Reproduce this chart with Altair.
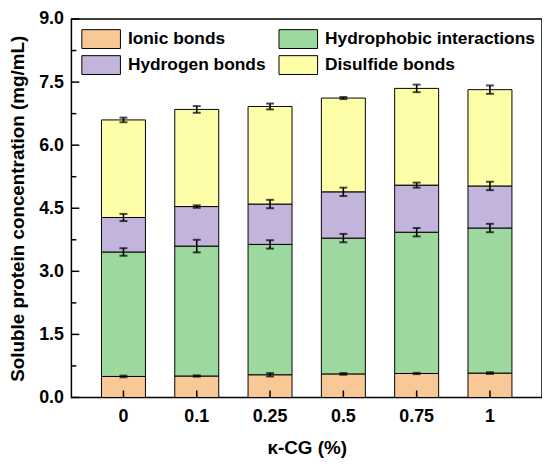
import altair as alt
import pandas as pd

categories = ["0", "0.1", "0.25", "0.5", "0.75", "1"]
series = ["Ionic bonds", "Hydrophobic interactions", "Hydrogen bonds", "Disulfide bonds"]
colors = ["#F9C897", "#9DD89E", "#C3B4DB", "#FEFEA8"]
# legend is filled column by column: this order gives rows (Ionic, Hydrophobic), (Hydrogen, Disulfide)
legend_order = ["Ionic bonds", "Hydrogen bonds", "Hydrophobic interactions", "Disulfide bonds"]

ionic = [0.50, 0.51, 0.54, 0.56, 0.57, 0.58]
hydrophobic = [2.96, 3.09, 3.10, 3.23, 3.36, 3.45]
hydrogen = [0.82, 0.94, 0.96, 1.10, 1.12, 1.00]
disulfide = [2.32, 2.31, 2.32, 2.23, 2.30, 2.29]

ionic_err = [0.02, 0.015, 0.04, 0.02, 0.015, 0.02]
hydrophobic_err = [0.09, 0.15, 0.10, 0.10, 0.10, 0.10]
hydrogen_err = [0.085, 0.03, 0.10, 0.10, 0.06, 0.10]
disulfide_err = [0.055, 0.08, 0.07, 0.025, 0.09, 0.10]

major_ticks = [0, 1.5, 3.0, 4.5, 6.0, 7.5, 9.0]
minor_ticks = [0.75, 2.25, 3.75, 5.25, 6.75, 8.25]

vals = [ionic, hydrophobic, hydrogen, disulfide]
errs = [ionic_err, hydrophobic_err, hydrogen_err, disulfide_err]
rows = []
for i, c in enumerate(categories):
    base = 0.0
    for s, v, e in zip(series, vals, errs):
        rows.append({"cat": c, "series": s, "start": base, "end": base + v[i],
                     "lo": base + v[i] - e[i], "hi": base + v[i] + e[i]})
        base += v[i]
df = pd.DataFrame(rows)

color_of = dict(zip(series, colors))

W, H = 475, 382
FONT = "Liberation Sans"

xscale = alt.Scale(domain=categories, paddingInner=0.4, paddingOuter=0.41)
yscale = alt.Scale(domain=[0, 9], nice=False)

x = alt.X("cat:N", scale=xscale, sort=categories,
          axis=alt.Axis(title="κ-CG (%)", labelAngle=0, ticks=False, domain=False,
                        labelPadding=10, titlePadding=14))
y_enc = alt.Y("start:Q", scale=yscale,
              axis=alt.Axis(title="Soluble protein concentration (mg/mL)",
                            values=major_ticks, format=".1f", ticks=False,
                            domain=False, grid=False, labelPadding=8, titlePadding=11))

legend_shape = "M-2.05,-1H2.05V1H-2.05Z"

bars = alt.Chart(df).mark_bar(stroke="black", strokeWidth=1).encode(
    x=x,
    y=y_enc,
    y2="end:Q",
    color=alt.Color("series:N",
                    scale=alt.Scale(domain=legend_order,
                                    range=[color_of[s] for s in legend_order]),
                    legend=alt.Legend(title=None, orient="none", legendX=20, legendY=10,
                                      columns=2, symbolType=legend_shape, symbolSize=361,
                                      symbolStrokeColor="black", symbolStrokeWidth=1,
                                      symbolOpacity=1, labelLimit=400,
                                      labelFontSize=17.5, labelFont=FONT, labelFontWeight="bold",
                                      labelColor="black", labelOffset=17, columnPadding=10,
                                      rowPadding=2.5, padding=0)),
    order=alt.Order("start:Q"),
)

err_line = alt.Chart(df).mark_rule(color="black", strokeWidth=1.6).encode(
    x=alt.X("cat:N", scale=xscale, sort=categories),
    y=alt.Y("lo:Q", scale=yscale),
    y2="hi:Q",
)
cap_lo = alt.Chart(df).mark_tick(color="black", thickness=2, size=8).encode(
    x=alt.X("cat:N", scale=xscale, sort=categories),
    y=alt.Y("lo:Q", scale=yscale),
)
cap_hi = alt.Chart(df).mark_tick(color="black", thickness=2, size=8).encode(
    x=alt.X("cat:N", scale=xscale, sort=categories),
    y=alt.Y("hi:Q", scale=yscale),
)

ymaj = alt.Chart(pd.DataFrame({"v": major_ticks})).mark_rule(color="black", strokeWidth=1.5).encode(
    y=alt.Y("v:Q", scale=yscale), x=alt.value(0), x2=alt.value(8))
ymin = alt.Chart(pd.DataFrame({"v": minor_ticks})).mark_rule(color="black", strokeWidth=1.5).encode(
    y=alt.Y("v:Q", scale=yscale), x=alt.value(0), x2=alt.value(5))
xt = alt.Chart(pd.DataFrame({"cat": categories})).mark_rule(color="black", strokeWidth=1.5).encode(
    x=alt.X("cat:N", scale=xscale, sort=categories), y=alt.value(H), y2=alt.value(H - 7))

chart = alt.layer(bars, err_line, cap_lo, cap_hi, ymaj, ymin, xt).properties(
    width=W, height=H, padding=0
).configure_view(stroke="black", strokeWidth=1.5).configure_axis(
    labelFont=FONT, labelFontSize=18, labelFontWeight="bold", labelColor="black",
    titleFont=FONT, titleFontSize=19, titleFontWeight="bold", titleColor="black",
)

chart.save("out.html", embed_options={"renderer": "svg", "actions": False})
